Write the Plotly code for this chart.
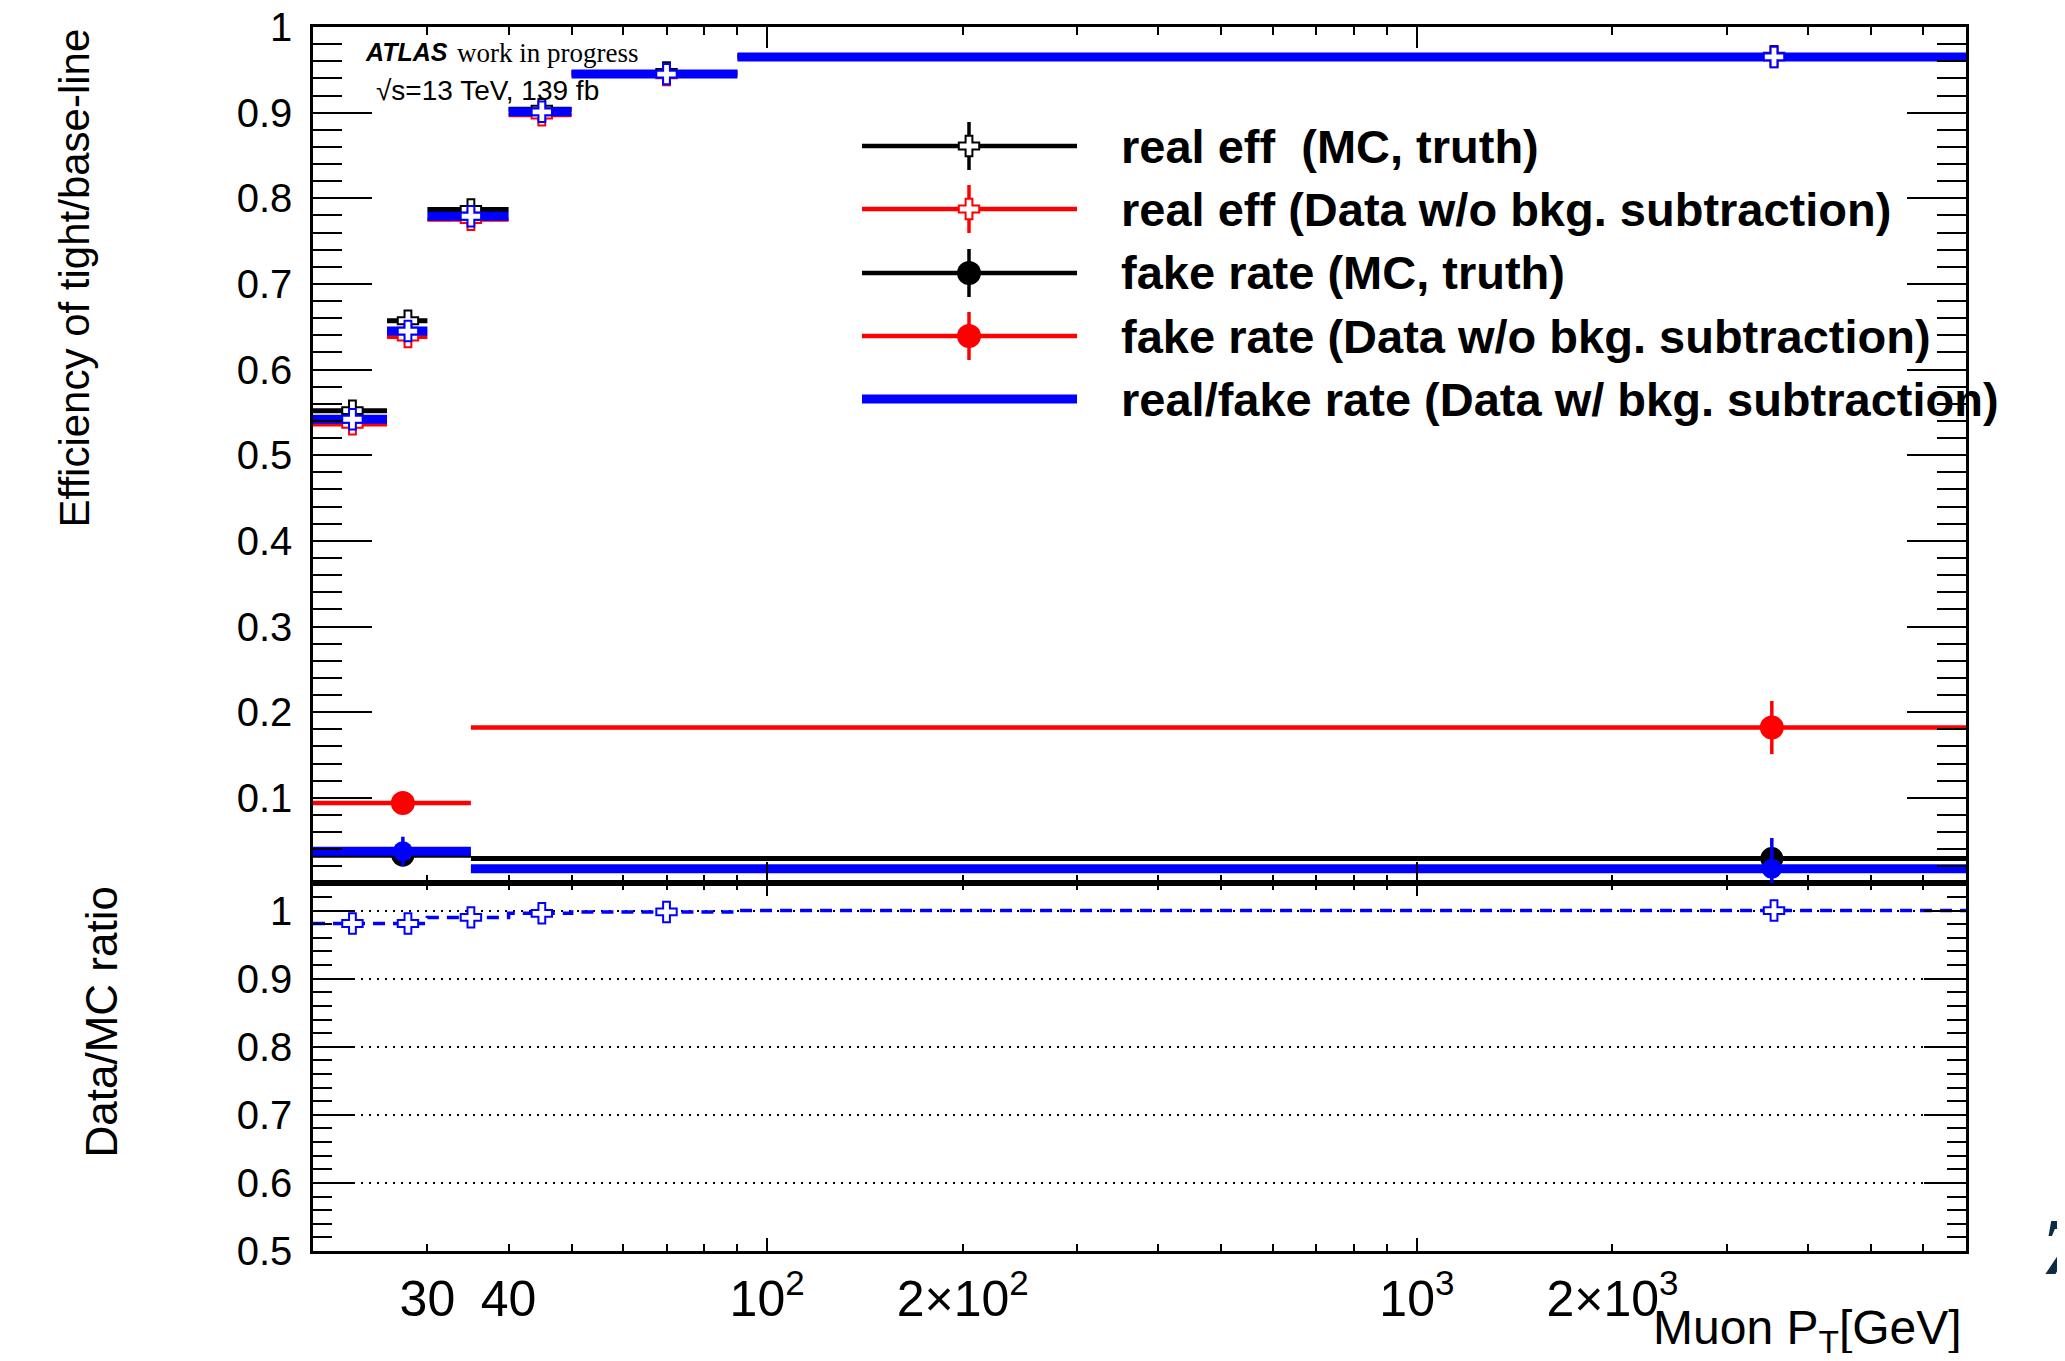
import math
import plotly.graph_objects as go

# ---------------- data ----------------
real_edges = [20, 26, 30, 40, 50, 90, 7000]
fake_edges = [20, 35, 7000]

real_eff_mc = [0.552, 0.657, 0.787, 0.904, 0.947, 0.966]
real_eff_mc_err = [0.004, 0.004, 0.003, 0.002, 0.002, 0.002]
real_eff_data = [0.536, 0.638, 0.775, 0.897, 0.944, 0.965]
real_eff_data_err = [0.004, 0.004, 0.003, 0.002, 0.002, 0.002]
real_eff_sub = [0.542, 0.645, 0.779, 0.901, 0.945, 0.965]
real_eff_sub_err = [0.004, 0.004, 0.003, 0.002, 0.002, 0.002]

fake_rate_mc = [0.033, 0.029]
fake_rate_mc_err = [0.004, 0.008]
fake_rate_data = [0.094, 0.182]
fake_rate_data_err = [0.006, 0.031]
fake_rate_sub = [0.0375, 0.017]
fake_rate_sub_err = [0.017, 0.036]

ratio_data_mc = [0.981, 0.981, 0.990, 0.996, 0.998, 1.000]

x_label_vals = [30, 40, 100, 200, 1000, 2000]
x_label_text = ["30", "40", "10<sup>2</sup>", "2×10<sup>2</sup>", "10<sup>3</sup>", "2×10<sup>3</sup>"]
x_minor_vals = [30, 40, 50, 60, 70, 80, 90, 200, 300, 400, 500, 600, 700, 800, 900,
                2000, 3000, 4000, 5000, 6000]
x_major_vals = [100, 1000]

legend_labels = ["real eff  (MC, truth)",
                 "real eff (Data w/o bkg. subtraction)",
                 "fake rate (MC, truth)",
                 "fake rate (Data w/o bkg. subtraction)",
                 "real/fake rate (Data w/ bkg. subtraction)"]

# ---------------- styles / layout constants ----------------
OFF = 8                      # default page body margin
W, H = 2065 - 2 * OFF, 1361 - 2 * OFF
PL, PR, PT, PB = 313, 1966, 27, 1251     # plot frame in screen pixels
SPLIT = 883
BLACK, RED, BLUE = "#000000", "#ff0000", "#0000ff"
FONT = "Liberation Sans, Arial, Helvetica, sans-serif"


def fx(X):
    return (X - PL) / (PR - PL)


def fy(Y):
    return (PB - Y) / (PB - PT)


def centers(edges):
    return [(edges[i] + edges[i + 1]) / 2 for i in range(len(edges) - 1)]


def hist_trace(edges, vals, errs, color, symbol, size, bar_w, xa, ya, fill=None):
    c = centers(edges)
    plus = [edges[i + 1] - c[i] for i in range(len(c))]
    minus = [c[i] - edges[i] for i in range(len(c))]
    return go.Scatter(
        x=c, y=vals, mode="markers", xaxis=xa, yaxis=ya, showlegend=False,
        marker=dict(symbol=symbol, size=size, color=fill if fill else color,
                    line=dict(color=color, width=2 if fill else 0)),
        error_x=dict(type="data", symmetric=False, array=plus, arrayminus=minus,
                     width=0, thickness=bar_w, color=color),
        error_y=dict(type="data", array=errs, width=0, thickness=3.5, color=color),
    )


fig = go.Figure()

# upper panel
fig.add_trace(hist_trace(real_edges, real_eff_mc, real_eff_mc_err, BLACK, "cross", 17, 5, "x2", "y2", fill="white"))
fig.add_trace(hist_trace(real_edges, real_eff_data, real_eff_data_err, RED, "cross", 17, 4, "x2", "y2", fill="white"))
fig.add_trace(hist_trace(fake_edges, fake_rate_mc, fake_rate_mc_err, BLACK, "circle", 23, 5, "x2", "y2"))
fig.add_trace(hist_trace(fake_edges, fake_rate_data, fake_rate_data_err, RED, "circle", 24, 4.5, "x2", "y2"))
fig.add_trace(hist_trace(real_edges, real_eff_sub, real_eff_sub_err, BLUE, "cross", 17, 9, "x2", "y2", fill="white"))
fig.add_trace(hist_trace(fake_edges, fake_rate_sub, fake_rate_sub_err, BLUE, "circle", 20, 9, "x2", "y2"))

# lower panel: ratio
fig.add_trace(go.Scatter(
    x=real_edges, y=ratio_data_mc + [ratio_data_mc[-1]], mode="lines", line_shape="hv",
    line=dict(color=BLUE, width=3.5, dash="12px,8px"), xaxis="x", yaxis="y", showlegend=False))
fig.add_trace(go.Scatter(
    x=centers(real_edges), y=ratio_data_mc, mode="markers", xaxis="x", yaxis="y", showlegend=False,
    marker=dict(symbol="cross", size=17, color="white", line=dict(color=BLUE, width=2))))

# empty traces so that the overlay tick axes are drawn
for xa, ya in [("x3", "y"), ("x5", "y"), ("x4", "y2")]:
    fig.add_trace(go.Scatter(x=[None], y=[None], xaxis=xa, yaxis=ya, showlegend=False, hoverinfo="skip"))

xr = [math.log10(real_edges[0]), math.log10(real_edges[-1])]
split_dom = (PB - SPLIT) / (PB - PT)

tick_common = dict(ticks="inside", tickwidth=2, tickcolor=BLACK, mirror="ticks",
                   showgrid=False, zeroline=False)
overlay_x = dict(type="log", range=xr, tickmode="array", showticklabels=False, showline=False, **tick_common)

fig.update_layout(
    width=W, height=H, template="none",
    paper_bgcolor="white", plot_bgcolor="white",
    margin=dict(l=PL - OFF, r=W - (PR - OFF), t=PT - OFF, b=H - (PB - OFF), autoexpand=False),
    font=dict(family=FONT, color=BLACK),
    showlegend=False,
    # lower panel x: labelled ticks
    xaxis=dict(type="log", range=xr, anchor="y", domain=[0, 1], showline=True, linecolor=BLACK, linewidth=2.5,
               tickmode="array", tickvals=x_label_vals, ticktext=x_label_text, ticklen=7,
               tickfont=dict(size=50, family=FONT), ticklabelstandoff=2, ticklabeloverflow="allow",
               **tick_common),
    xaxis3=dict(overlaying="x", anchor="y", tickvals=x_major_vals, ticklen=13, **overlay_x),
    xaxis5=dict(overlaying="x", anchor="y", tickvals=x_minor_vals, ticklen=7, **overlay_x),
    # upper panel x
    xaxis2=dict(type="log", range=xr, anchor="y2", domain=[0, 1], matches="x", showline=True, linecolor=BLACK,
                linewidth=2.5, tickmode="array", tickvals=x_minor_vals, ticklen=8, showticklabels=False,
                **tick_common),
    xaxis4=dict(overlaying="x2", anchor="y2", tickvals=x_major_vals, ticklen=21, **overlay_x),
    # lower panel y
    yaxis=dict(domain=[0, split_dom], range=[0.5, 1.0405], anchor="x", showline=True, linecolor=BLACK,
               linewidth=2.5, ticks="inside", ticklen=42, tickwidth=2, tickcolor=BLACK, mirror="ticks",
               tickmode="linear", tick0=0.5, dtick=0.1,
               tickfont=dict(size=40, family=FONT), ticklabelstandoff=10, ticklabeloverflow="allow",
               minor=dict(ticks="inside", ticklen=19, tickwidth=2, tickcolor=BLACK, tickmode="linear",
                          tick0=0.5, dtick=0.02, showgrid=False),
               showgrid=True, gridcolor=BLACK, gridwidth=2, griddash="2px,6px", zeroline=False),
    # upper panel y
    yaxis2=dict(domain=[split_dom, 1], range=[0.0005, 1], anchor="x2", showline=True, linecolor=BLACK,
                linewidth=2.5, ticks="inside", ticklen=59, tickwidth=2, tickcolor=BLACK, mirror="ticks",
                tickmode="linear", tick0=0, dtick=0.1,
                tickfont=dict(size=40, family=FONT), ticklabelstandoff=10, ticklabeloverflow="allow",
                minor=dict(ticks="inside", ticklen=29, tickwidth=2, tickcolor=BLACK, tickmode="linear",
                           tick0=0, dtick=0.02, showgrid=False),
                showgrid=False, zeroline=False),
)

ann = []
ann.append(dict(text="Efficiency of tight/base-line", textangle=-90, x=fx(74), y=fy(27),
                xanchor="center", yanchor="top", font=dict(size=42)))
ann.append(dict(text="Data/MC ratio", textangle=-90, x=fx(101), y=fy(885),
                xanchor="center", yanchor="top", font=dict(size=44)))
ann.append(dict(text="Muon P<sub>T</sub>[GeV]", x=fx(1964), y=fy(1331),
                xanchor="right", yanchor="middle", font=dict(size=48)))
ann.append(dict(text="<b><i>ATLAS</i></b>", x=fx(363), y=fy(52), xanchor="left", yanchor="middle",
                font=dict(size=25)))
ann.append(dict(text="work in progress", x=fx(455), y=fy(53), xanchor="left", yanchor="middle",
                font=dict(size=27, family="Liberation Serif, Times New Roman, serif")))
ann.append(dict(text="√s=13 TeV, 139 fb", x=fx(374), y=fy(90), xanchor="left", yanchor="middle",
                font=dict(size=28)))
ann.append(dict(text="<b><i>7</i></b>", x=fx(2040), y=fy(1247), xanchor="left", yanchor="middle",
                font=dict(size=80, color="#0d2b45", family="Liberation Serif, Times New Roman, serif")))

# manual legend
LEG_ROWS = [146, 209, 273, 336, 399]
LEG_X0, LEG_X1, LEG_MX, LEG_TX = 862, 1077, 969, 1119
leg_style = [(BLACK, 4.5, "cross"), (RED, 4.5, "cross"), (BLACK, 4.5, "circle"), (RED, 4.5, "circle"),
             (BLUE, 9, None)]
shapes = []
r = 17 / 2.0
rc, rt = 0.4 * r, 1.2 * r
cross_path = (f"M{rt},{rc}H{rc}V{rt}H{-rc}V{rc}H{-rt}V{-rc}H{-rc}V{-rt}H{rc}V{-rc}H{rt}Z")
for label, yrow, (col, lw, mk) in zip(legend_labels, LEG_ROWS, leg_style):
    ann.append(dict(text=f"<b>{label}</b>", x=fx(LEG_TX), y=fy(yrow), xanchor="left", yanchor="middle",
                    font=dict(size=47)))
    shapes.append(dict(type="line", xref="paper", yref="paper", x0=fx(LEG_X0), x1=fx(LEG_X1),
                       y0=fy(yrow), y1=fy(yrow), line=dict(color=col, width=lw)))
    if mk:
        shapes.append(dict(type="line", xref="paper", yref="paper", x0=fx(LEG_MX), x1=fx(LEG_MX),
                           y0=fy(yrow - 24), y1=fy(yrow + 24), line=dict(color=col, width=3.5)))
        if mk == "circle":
            shapes.append(dict(type="circle", xref="paper", yref="paper", xsizemode="pixel", ysizemode="pixel",
                               xanchor=fx(LEG_MX), yanchor=fy(yrow), x0=-12, x1=12, y0=-12, y1=12,
                               fillcolor=col, line=dict(width=0)))
        else:
            shapes.append(dict(type="path", xref="paper", yref="paper", xsizemode="pixel", ysizemode="pixel",
                               xanchor=fx(LEG_MX), yanchor=fy(yrow), path=cross_path,
                               fillcolor="white", line=dict(color=col, width=2)))

for a in ann:
    a.update(xref="paper", yref="paper", showarrow=False)
fig.update_layout(annotations=ann, shapes=shapes)

fig.write_html("out.html")
